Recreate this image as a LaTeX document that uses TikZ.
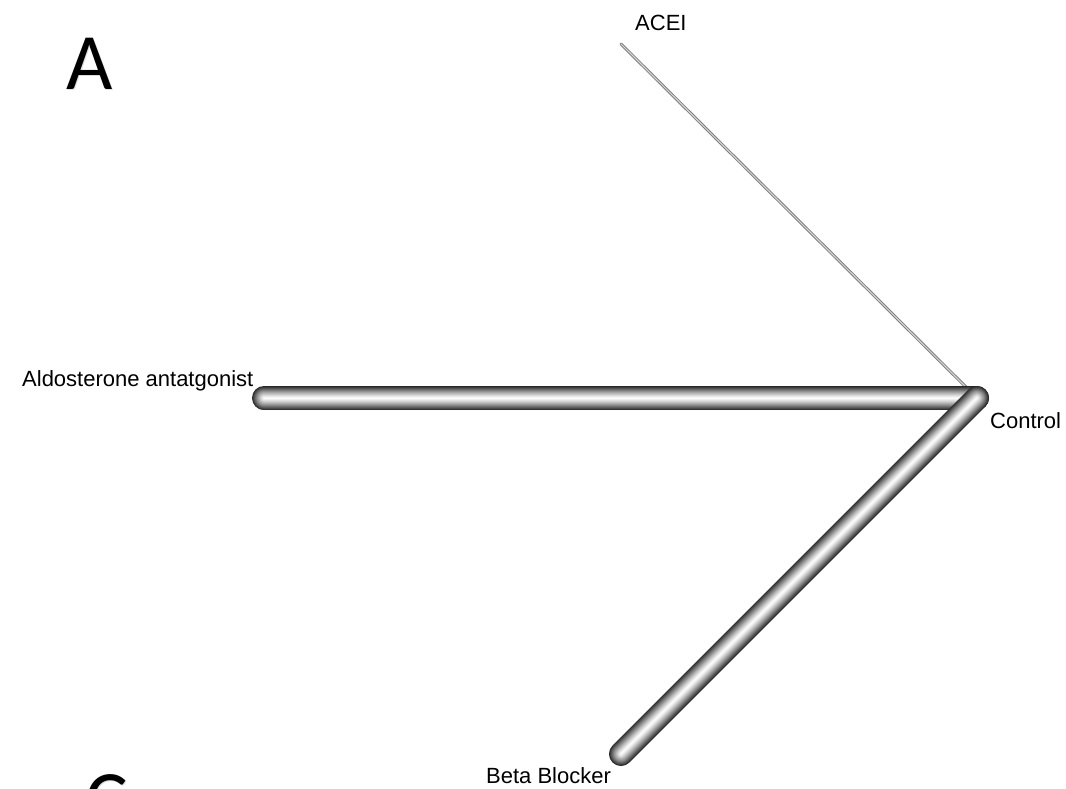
\documentclass[tikz,border=0pt]{standalone}
\usepackage{fontspec}
\setmainfont{Liberation Sans}
\newfontfamily\carlito{Carlito}
\begin{document}
\begin{tikzpicture}[x=1pt,y=-1pt,
  lbl/.style={font=\fontsize{22}{25}\selectfont, inner sep=0pt, anchor=base west},
  panel/.style={font=\carlito\fontsize{80}{90}\selectfont, inner sep=0pt, anchor=base west}]
\useasboundingbox (0,0) rectangle (1066,788);
\clip (0,0) rectangle (1066,788);
% network nodes
\coordinate (control) at (977,398);
\coordinate (aldo) at (264,398);
\coordinate (beta) at (621,754);
\coordinate (acei) at (621,44);
% thin ACEI edge
\draw[line width=3pt, black!50, line cap=round] (acei) -- (control);
\draw[line width=1pt, black!15, line cap=round] (acei) -- (control);
% thick tube edges
\foreach \i in {0,...,23}{
  \pgfmathsetmacro\w{24-\i}
  \pgfmathsetmacro\k{85*((\w/24)^1.25)}
  \draw[line width=\w pt, black!\k, line cap=round] (aldo) -- (control);
}
\foreach \i in {0,...,23}{
  \pgfmathsetmacro\w{24-\i}
  \pgfmathsetmacro\k{85*((\w/24)^1.25)}
  \draw[line width=\w pt, black!\k, line cap=round] (beta) -- (control);
}
% labels
\node[lbl] (lacei) at (635,30) {ACEI};
\node[lbl] (laldo) at (22,386) {Aldosterone antatgonist};
\node[lbl] (lcontrol) at (990,428) {Control};
\node[lbl] (lbeta) at (486,783) {Beta Blocker};
% panel letters
\node[panel, text=black!12] (Ashadow) at (67.5,90.5) {A};
\node[panel] (A) at (66,89) {A};
\node[panel, text=black!12] (Cshadow) at (86.5,827.5) {C};
\node[panel] (C) at (85,826) {C};
\end{tikzpicture}
\end{document}
